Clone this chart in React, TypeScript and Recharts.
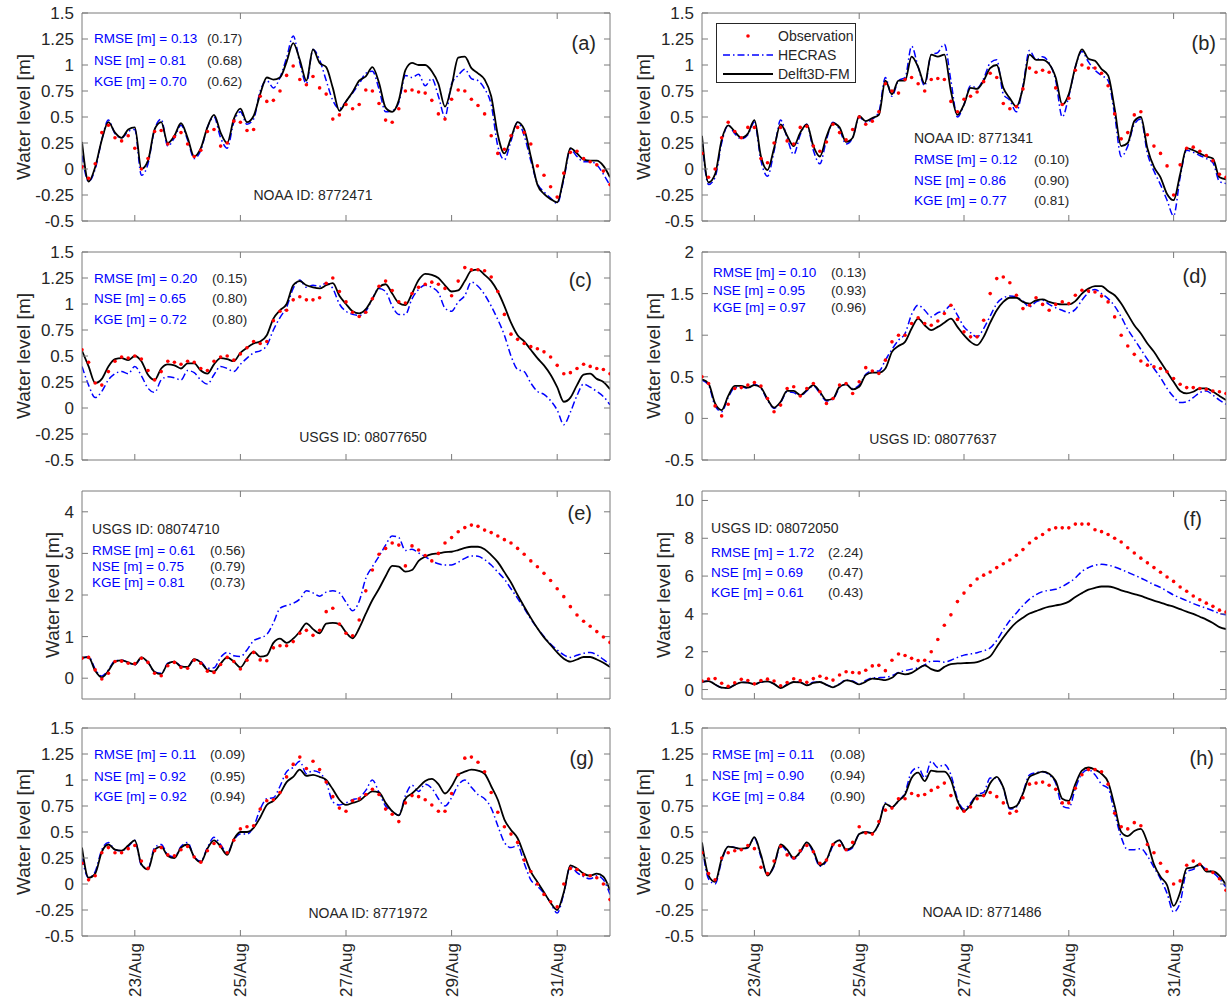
import React from "react";
import { ComposedChart, Line, XAxis, YAxis } from "recharts";

const FONT = '"Liberation Sans", Arial, Helvetica, sans-serif';
const AXIS = "#7a7a7a";
const TXT = "#262626";
const BLUE = "#0000ff";
const RED = "#ff0000";
const PLOT_H = 208;
const YW = 90;

// hours since 22/Aug 00:00, one reading every 3 h
const HOURS = Array.from({ length: 81 }, (_, i) => i * 3);
const DATE_TICKS = [24, 72, 120, 168, 216];
const DATE_LABELS = ["23/Aug", "25/Aug", "27/Aug", "29/Aug", "31/Aug"];

const TICKS_Q = [-0.5, -0.25, 0, 0.25, 0.5, 0.75, 1, 1.25, 1.5];
const TICKS_D = [-0.5, 0, 0.5, 1, 1.5, 2];
const TICKS_E = [0, 1, 2, 3, 4];
const TICKS_F = [0, 2, 4, 6, 8, 10];

const STAT_NAMES = ["RMSE [m]", "NSE [m]", "KGE [m]"];

// (a) NOAA 8772471
const aObs = [
  0.02, -0.09, 0.05, 0.35, 0.42, 0.3, 0.27, 0.32,
  0.2, 0.0, 0.1, 0.36, 0.37, 0.24, 0.31, 0.35,
  0.24, 0.12, 0.18, 0.36, 0.38, 0.22, 0.25, 0.46,
  0.45, 0.37, 0.38, 0.7, 0.65, 0.66, 0.75, 0.9,
  0.99, 0.86, 0.81, 0.89, 0.78, 0.72, 0.48, 0.52,
  0.62, 0.58, 0.62, 0.76, 0.75, 0.63, 0.47, 0.45,
  0.58, 0.75, 0.76, 0.74, 0.73, 0.66, 0.53, 0.48,
  0.67, 0.76, 0.75, 0.67, 0.61, 0.53, 0.32, 0.15,
  0.19, 0.32, 0.4, 0.35, 0.24, 0.03, -0.06, -0.17,
  -0.27, -0.04, 0.16, 0.17, 0.1, 0.07, 0.04, -0.02,
  -0.15,
];
const aHec = [
  0.13, -0.12, 0.0, 0.28, 0.47, 0.34, 0.3, 0.36,
  0.38, -0.06, 0.05, 0.38, 0.48, 0.22, 0.3, 0.42,
  0.28, 0.1, 0.18, 0.4, 0.5, 0.3, 0.2, 0.45,
  0.55, 0.43, 0.48, 0.75, 0.85, 0.78, 0.88, 1.07,
  1.28, 1.02, 0.82, 1.15, 1.05, 0.85, 0.66, 0.58,
  0.65, 0.73, 0.82, 0.92, 0.94, 0.77, 0.55, 0.56,
  0.64, 0.9, 0.88, 0.91, 0.8, 0.87, 0.7, 0.5,
  0.82, 0.9, 0.96, 0.87, 0.85, 0.77, 0.62, 0.22,
  0.09, 0.27, 0.45, 0.32, 0.08, -0.14, -0.22, -0.28,
  -0.33, -0.1, 0.19, 0.12, 0.07, 0.07, 0.04, -0.05,
  -0.16,
];
const aDel = [
  0.26, -0.12, 0.02, 0.28, 0.45, 0.35, 0.3, 0.38,
  0.4, 0.0, 0.08, 0.38, 0.45, 0.25, 0.32, 0.44,
  0.3, 0.12, 0.2, 0.4, 0.52, 0.35, 0.25, 0.48,
  0.58, 0.45, 0.51, 0.72, 0.88, 0.86, 0.88, 1.03,
  1.21, 1.05, 0.85, 1.15, 1.02, 0.98, 0.78, 0.56,
  0.65, 0.74, 0.85, 0.89, 0.98, 0.83, 0.59, 0.55,
  0.66, 0.95, 1.02, 1.0, 1.0, 0.94, 0.82, 0.6,
  0.8, 1.07, 1.08, 0.97, 0.92, 0.86, 0.7, 0.33,
  0.15, 0.3, 0.45, 0.38, 0.12, -0.15, -0.24, -0.29,
  -0.32, -0.08, 0.2, 0.15, 0.09, 0.08, 0.08, 0.03,
  -0.08,
];

// (b) NOAA 8771341
const bObs = [
  0.15, -0.08, 0.0, 0.3, 0.45, 0.36, 0.3, 0.4,
  0.4, 0.1, 0.06, 0.25, 0.4, 0.27, 0.24, 0.4,
  0.41, 0.22, 0.17, 0.26, 0.43, 0.35, 0.28, 0.38,
  0.5, 0.43, 0.46, 0.55, 0.82, 0.75, 0.73, 0.86,
  0.88, 0.82, 0.75, 0.86, 0.87, 0.86, 0.65, 0.55,
  0.67, 0.7, 0.74, 0.84, 0.92, 0.88, 0.63, 0.58,
  0.6, 0.77, 0.97, 0.93, 0.95, 0.93, 0.78, 0.62,
  0.68, 0.95, 1.0, 0.97, 0.97, 0.92, 0.8, 0.53,
  0.29, 0.35, 0.52, 0.55, 0.33, 0.22, 0.15, 0.03,
  -0.25, 0.04, 0.2, 0.21, 0.17, 0.13, 0.08, -0.05,
  -0.08,
];
const bHec = [
  0.28, -0.15, -0.08, 0.25, 0.42, 0.34, 0.29, 0.33,
  0.45, 0.08, -0.07, 0.17, 0.47, 0.3, 0.14, 0.33,
  0.43, 0.18, 0.05, 0.28, 0.45, 0.38, 0.24, 0.3,
  0.5, 0.45, 0.48, 0.55, 0.88, 0.7, 0.85, 0.88,
  1.18, 0.98, 0.8, 1.1, 1.12, 1.2, 0.85, 0.5,
  0.62, 0.8, 0.78, 0.87, 1.02, 1.05, 0.72, 0.66,
  0.55, 0.8, 1.14, 1.05, 1.08, 1.02, 0.85, 0.5,
  0.7, 0.98, 1.13, 1.03, 0.95, 0.9, 0.85, 0.52,
  0.12, 0.22, 0.43, 0.48, 0.15, -0.02, -0.15, -0.3,
  -0.45, -0.08, 0.18, 0.16, 0.13, 0.1, 0.06, -0.12,
  -0.14,
];
const bDel = [
  0.32, -0.13, -0.05, 0.28, 0.42, 0.36, 0.3, 0.34,
  0.47, 0.12, -0.01, 0.2, 0.43, 0.32, 0.22, 0.35,
  0.43, 0.22, 0.12, 0.31, 0.44, 0.4, 0.26, 0.3,
  0.51, 0.46, 0.49, 0.52, 0.85, 0.72, 0.85, 0.85,
  1.08, 0.98, 0.82, 1.1, 1.08, 1.1, 0.75, 0.52,
  0.62, 0.78, 0.77, 0.85, 0.97, 1.0, 0.78, 0.68,
  0.6, 0.78, 1.1, 1.05, 1.05, 1.01, 0.88, 0.62,
  0.72, 0.98, 1.15, 1.06, 1.04, 0.96, 0.9, 0.58,
  0.22, 0.25, 0.46, 0.5, 0.2, 0.02, -0.08, -0.24,
  -0.3, -0.05, 0.2, 0.18, 0.15, 0.12, 0.1, -0.08,
  -0.1,
];

// (c) USGS 08077650
const cObs = [
  0.56, 0.44, 0.24, 0.22, 0.35, 0.45, 0.49, 0.48,
  0.5, 0.47, 0.36, 0.27, 0.35, 0.45, 0.44, 0.42,
  0.45, 0.44, 0.38, 0.36, 0.45, 0.49, 0.5, 0.46,
  0.52, 0.58, 0.64, 0.62, 0.64, 0.84, 0.93, 0.94,
  1.04, 1.07, 1.04, 1.04, 1.06, 1.2, 1.25, 1.12,
  1.02, 0.92, 0.88, 0.92, 1.05, 1.17, 1.22, 1.13,
  1.02, 1.01, 1.1, 1.16, 1.19, 1.21, 1.19, 1.15,
  1.08, 1.22, 1.35, 1.33, 1.33, 1.32, 1.26, 1.12,
  0.9, 0.71, 0.66, 0.62, 0.59, 0.57, 0.54, 0.49,
  0.41, 0.33, 0.34, 0.38, 0.42, 0.4, 0.38, 0.37,
  0.33,
];
const cHec = [
  0.4, 0.22, 0.1, 0.16, 0.27, 0.33, 0.35, 0.33,
  0.4, 0.31, 0.19, 0.15, 0.27, 0.3, 0.29, 0.27,
  0.36, 0.34, 0.27, 0.23, 0.32, 0.4, 0.38, 0.35,
  0.42, 0.48, 0.53, 0.55, 0.6, 0.75, 0.87, 0.97,
  1.15, 1.23, 1.16, 1.18, 1.17, 1.2, 1.15, 1.0,
  0.93, 0.9, 0.89, 0.93, 1.05, 1.15, 1.12, 0.98,
  0.9, 0.9, 1.05, 1.14, 1.18, 1.16, 1.11, 0.96,
  0.93, 1.02, 1.08, 1.21, 1.17, 1.09, 0.98, 0.85,
  0.7, 0.5, 0.37, 0.35, 0.24, 0.16, 0.13, 0.07,
  -0.02, -0.16, -0.04, 0.12, 0.23, 0.2, 0.16, 0.11,
  0.03,
];
const cDel = [
  0.55, 0.4, 0.24, 0.28, 0.4, 0.47, 0.48, 0.46,
  0.5, 0.45, 0.32, 0.27, 0.38, 0.42, 0.41, 0.38,
  0.43, 0.43, 0.36, 0.33, 0.42, 0.48, 0.47, 0.45,
  0.53, 0.58, 0.62, 0.64, 0.7, 0.86, 0.94, 1.0,
  1.18, 1.22, 1.18, 1.16, 1.15, 1.18, 1.2, 1.08,
  1.0, 0.93, 0.91, 0.95, 1.05, 1.16, 1.19, 1.1,
  1.01, 0.99, 1.1, 1.23, 1.29, 1.28, 1.25, 1.18,
  1.12, 1.13, 1.22, 1.32, 1.33, 1.28, 1.22, 1.12,
  0.98, 0.82, 0.7, 0.64, 0.56, 0.48, 0.41, 0.32,
  0.2, 0.06, 0.1, 0.22, 0.32, 0.33, 0.28, 0.25,
  0.18,
];

// (d) USGS 08077637
const dObs = [
  0.5, 0.42, 0.15, 0.03, 0.17, 0.36, 0.37, 0.4,
  0.43, 0.39, 0.24, 0.08, 0.16, 0.36, 0.38, 0.27,
  0.36, 0.42, 0.32, 0.18, 0.24, 0.4, 0.42, 0.3,
  0.44, 0.61, 0.57, 0.54, 0.7, 0.92, 1.0, 1.0,
  1.14, 1.21, 1.14, 1.12, 1.17, 1.26, 1.36, 1.19,
  1.04, 0.98, 0.98, 1.18, 1.5, 1.68, 1.7, 1.63,
  1.48, 1.32, 1.36, 1.45, 1.37, 1.3, 1.37, 1.4,
  1.38, 1.48, 1.54, 1.53, 1.52, 1.47, 1.4, 1.22,
  1.0, 0.87, 0.77, 0.69, 0.64, 0.62, 0.6, 0.56,
  0.48, 0.41, 0.37, 0.37, 0.36, 0.35, 0.33, 0.32,
  0.3,
];
const dHec = [
  0.46, 0.4, 0.15, 0.08, 0.25, 0.37, 0.38, 0.36,
  0.41, 0.36, 0.22, 0.12, 0.19, 0.32, 0.31, 0.27,
  0.33, 0.39, 0.3, 0.21, 0.23, 0.37, 0.41, 0.36,
  0.4, 0.53, 0.57, 0.57, 0.7, 0.83, 0.94, 1.02,
  1.25, 1.36, 1.3, 1.22, 1.27, 1.29, 1.36, 1.24,
  1.1, 1.03, 0.98, 1.08, 1.23, 1.38, 1.45, 1.47,
  1.46, 1.41, 1.34, 1.4, 1.42, 1.37, 1.33, 1.3,
  1.27, 1.31, 1.42, 1.51, 1.55, 1.5, 1.44, 1.35,
  1.22, 1.07, 0.95, 0.83, 0.71, 0.6, 0.49, 0.36,
  0.26, 0.19, 0.2, 0.25, 0.31, 0.33, 0.28, 0.22,
  0.17,
];
const dDel = [
  0.47, 0.42, 0.18, 0.1, 0.27, 0.39, 0.39, 0.37,
  0.4, 0.37, 0.23, 0.13, 0.2, 0.33, 0.33, 0.28,
  0.34, 0.4, 0.32, 0.22, 0.24, 0.38, 0.41, 0.35,
  0.38, 0.52, 0.55, 0.55, 0.6, 0.8, 0.87, 0.92,
  1.08, 1.2, 1.12, 1.06, 1.1, 1.15, 1.2, 1.1,
  1.0, 0.92, 0.88, 0.98, 1.15, 1.3, 1.4, 1.45,
  1.45, 1.4, 1.38, 1.42, 1.43, 1.4, 1.38, 1.37,
  1.37, 1.41, 1.5, 1.56, 1.59, 1.59, 1.53, 1.48,
  1.38, 1.25, 1.12, 1.02, 0.9, 0.8, 0.68, 0.56,
  0.44, 0.33, 0.3, 0.32, 0.36, 0.36, 0.32, 0.27,
  0.22,
];

// (e) USGS 08074710
const eObs = [
  0.48, 0.5, 0.2, -0.02, 0.12, 0.4, 0.41, 0.36,
  0.35, 0.48, 0.38, 0.12, 0.06, 0.3, 0.38, 0.26,
  0.24, 0.43, 0.36, 0.17, 0.14, 0.33, 0.5, 0.4,
  0.22, 0.43, 0.62, 0.44, 0.42, 0.73, 0.78, 0.78,
  0.88, 1.08, 1.15, 1.03, 1.15, 1.6, 1.68, 1.3,
  1.08, 1.02, 1.4, 2.1, 2.6, 2.98, 3.12, 3.25,
  3.2, 2.7, 3.18, 3.08, 2.95, 2.82, 3.0, 3.25,
  3.38, 3.52, 3.62, 3.68, 3.65, 3.56, 3.5, 3.42,
  3.33, 3.25, 3.12, 2.98, 2.82, 2.68, 2.52, 2.35,
  2.15, 1.96, 1.72, 1.52, 1.37, 1.25, 1.12, 0.99,
  0.86,
];
const eHec = [
  0.47, 0.52, 0.22, 0.05, 0.2, 0.42, 0.43, 0.38,
  0.32, 0.48, 0.38, 0.15, 0.12, 0.36, 0.4, 0.29,
  0.27, 0.45, 0.4, 0.24, 0.25, 0.5, 0.62, 0.54,
  0.52, 0.68, 0.9, 0.97, 1.05, 1.33, 1.68, 1.75,
  1.8, 1.9, 2.1, 2.05, 1.97, 2.07, 2.1, 2.05,
  1.83, 1.62, 1.85, 2.4, 2.68, 2.93, 3.2, 3.42,
  3.38, 3.07, 3.1, 3.01, 2.92, 2.82, 2.75, 2.72,
  2.72, 2.79, 2.88, 2.94, 2.93, 2.85, 2.72, 2.55,
  2.38, 2.15, 1.92, 1.68, 1.42, 1.2, 1.0, 0.82,
  0.68, 0.56, 0.5, 0.55, 0.6, 0.62, 0.56, 0.45,
  0.33,
];
const eDel = [
  0.5, 0.5, 0.18, 0.02, 0.18, 0.4, 0.43, 0.38,
  0.33, 0.5, 0.38, 0.15, 0.1, 0.35, 0.4, 0.28,
  0.27, 0.46, 0.38, 0.2, 0.16, 0.35, 0.5, 0.4,
  0.26, 0.47, 0.64, 0.52, 0.55, 0.85, 0.95, 0.85,
  0.95, 1.12, 1.32, 1.18, 1.08, 1.31, 1.33, 1.3,
  1.1, 0.96, 1.2, 1.55, 1.88, 2.15, 2.45, 2.7,
  2.68, 2.56, 2.6, 2.82, 2.92, 2.98, 3.0, 3.03,
  3.04, 3.08, 3.13, 3.16, 3.16, 3.1, 2.96, 2.79,
  2.55, 2.3, 2.0, 1.72, 1.45, 1.2, 0.98, 0.8,
  0.62, 0.47, 0.4, 0.45, 0.51, 0.51, 0.45, 0.37,
  0.27,
];

// (f) USGS 08072050
const fObs = [
  0.45, 0.56, 0.58, 0.33, 0.17, 0.36, 0.54, 0.48,
  0.3, 0.48, 0.55, 0.45, 0.2, 0.37, 0.57, 0.47,
  0.38, 0.58, 0.7, 0.6, 0.5, 0.77, 0.94, 0.9,
  0.88, 1.02, 1.25, 1.28, 1.0, 1.55, 1.88, 1.8,
  1.65, 1.53, 1.55, 2.0, 2.65, 3.4, 3.95, 4.65,
  5.1, 5.5, 5.85, 6.05, 6.22, 6.45, 6.65, 6.85,
  7.1, 7.4, 7.75, 8.0, 8.2, 8.45, 8.55, 8.55,
  8.55, 8.75, 8.75, 8.75, 8.45, 8.35, 8.2, 8.0,
  7.8, 7.5, 7.22, 6.95, 6.7, 6.45, 6.2, 5.95,
  5.72, 5.42, 5.2, 4.95, 4.75, 4.57, 4.4, 4.2,
  4.1,
];
const fHec = [
  0.4, 0.45, 0.27, 0.1, 0.08, 0.25, 0.38, 0.37,
  0.28, 0.4, 0.43, 0.3, 0.1, 0.27, 0.4, 0.38,
  0.24, 0.38, 0.4, 0.25, 0.14, 0.3, 0.5, 0.45,
  0.3, 0.48, 0.62, 0.63, 0.65, 0.73, 0.9, 1.0,
  1.08, 1.15, 1.3, 1.5, 1.5, 1.45, 1.55, 1.7,
  1.82, 1.88, 1.95, 2.05, 2.2, 2.6, 3.15, 3.65,
  4.05, 4.45, 4.78, 5.02, 5.18, 5.25, 5.3, 5.45,
  5.65, 5.9, 6.25, 6.45, 6.58, 6.62, 6.58, 6.48,
  6.35, 6.2, 6.05, 5.9, 5.72, 5.55, 5.4, 5.2,
  5.0, 4.85, 4.7, 4.55, 4.42, 4.3, 4.17, 4.02,
  3.95,
];
const fDel = [
  0.4, 0.45, 0.27, 0.1, 0.08, 0.25, 0.38, 0.37,
  0.28, 0.4, 0.43, 0.3, 0.08, 0.25, 0.4, 0.38,
  0.22, 0.35, 0.4, 0.25, 0.12, 0.28, 0.48, 0.42,
  0.27, 0.42, 0.58, 0.55, 0.5, 0.62, 0.88, 0.8,
  0.88, 1.1, 1.28, 1.08, 0.98, 1.2, 1.35, 1.38,
  1.4, 1.41, 1.45, 1.58, 1.75, 2.25, 2.75, 3.2,
  3.55, 3.8, 4.02, 4.15, 4.28, 4.38, 4.45, 4.52,
  4.65, 4.9, 5.1, 5.28, 5.38, 5.45, 5.45, 5.38,
  5.25, 5.15, 5.05, 4.95, 4.82, 4.7, 4.6, 4.48,
  4.38, 4.25, 4.12, 4.0, 3.85, 3.7, 3.52, 3.3,
  3.2,
];

// (g) NOAA 8771972
const gObs = [
  0.2, 0.04, 0.08, 0.3, 0.35, 0.3, 0.3, 0.34,
  0.37, 0.22, 0.15, 0.32, 0.35, 0.28, 0.27, 0.33,
  0.36, 0.26, 0.21, 0.32, 0.39, 0.36, 0.3, 0.42,
  0.53, 0.55, 0.56, 0.72, 0.8, 0.81, 0.88, 1.03,
  1.15, 1.22, 1.11, 1.18, 1.1, 0.98, 0.84, 0.73,
  0.7, 0.8, 0.82, 0.86, 0.91, 0.86, 0.72, 0.67,
  0.6, 0.78, 0.85, 0.84, 0.81, 0.76, 0.7, 0.7,
  0.87, 1.05, 1.21, 1.22, 1.17, 1.08, 0.88, 0.69,
  0.55, 0.48, 0.4, 0.23, 0.12, 0.0, -0.1, -0.17,
  -0.22, 0.0, 0.15, 0.14, 0.09, 0.08, 0.06, 0.0,
  -0.15,
];
const gHec = [
  0.25, 0.06, 0.12, 0.33, 0.4, 0.33, 0.32, 0.36,
  0.42, 0.18, 0.15, 0.35, 0.38, 0.28, 0.26, 0.36,
  0.4, 0.26, 0.22, 0.35, 0.45, 0.38, 0.3, 0.42,
  0.48, 0.48, 0.55, 0.72, 0.82, 0.83, 0.94, 1.08,
  1.12, 1.18, 1.06, 1.09, 1.07, 0.98, 0.79, 0.76,
  0.78, 0.81, 0.83, 0.9, 1.0, 0.88, 0.75, 0.7,
  0.66, 0.85, 0.95, 0.89, 0.96, 0.92, 0.82, 0.75,
  0.83, 0.95, 1.0, 0.93, 0.86, 0.82, 0.73, 0.56,
  0.4, 0.35, 0.37, 0.2, 0.04, -0.02, -0.09, -0.18,
  -0.28, -0.09, 0.17, 0.11, 0.07, 0.05, 0.08, 0.04,
  -0.1,
];
const gDel = [
  0.35, 0.06, 0.1, 0.31, 0.38, 0.33, 0.32, 0.37,
  0.42, 0.19, 0.14, 0.33, 0.36, 0.27, 0.25, 0.35,
  0.38, 0.26, 0.21, 0.34, 0.42, 0.36, 0.28, 0.43,
  0.5, 0.5, 0.54, 0.64, 0.76, 0.8, 0.87, 0.98,
  1.03, 1.1, 1.04, 1.05, 1.03, 1.0, 0.91, 0.81,
  0.76, 0.78, 0.8, 0.85, 0.89, 0.88, 0.78, 0.7,
  0.66, 0.82, 0.87, 0.93, 0.99, 1.01, 0.96, 0.87,
  0.94, 1.05, 1.08, 1.1, 1.09, 1.06, 0.94, 0.81,
  0.62, 0.52, 0.44, 0.28, 0.12, 0.02, -0.08, -0.18,
  -0.25, -0.08, 0.18, 0.15, 0.1, 0.08, 0.1, 0.07,
  -0.06,
];

// (h) NOAA 8771486
const hObs = [
  0.3, 0.1, 0.04, 0.25, 0.3, 0.32, 0.33, 0.37,
  0.34, 0.16, 0.1, 0.22, 0.36, 0.28, 0.25, 0.32,
  0.37, 0.31, 0.2, 0.23, 0.38, 0.37, 0.33, 0.4,
  0.55, 0.49, 0.48, 0.6, 0.71, 0.73, 0.82, 0.82,
  0.87, 0.85, 0.86, 0.9, 0.93, 0.97, 0.85, 0.73,
  0.7, 0.74, 0.82, 0.85, 0.88, 0.84, 0.78, 0.68,
  0.7, 0.83, 0.96, 0.97, 0.98, 0.95, 0.91, 0.78,
  0.78, 0.92, 1.05, 1.1, 1.1, 1.08, 0.96, 0.68,
  0.55, 0.53, 0.59, 0.56, 0.38, 0.3, 0.2, 0.12,
  0.0, 0.03, 0.18, 0.22, 0.19, 0.14, 0.11, 0.05,
  -0.06,
];
const hHec = [
  0.38, 0.05, 0.0, 0.22, 0.36, 0.35, 0.33, 0.35,
  0.44, 0.26, 0.09, 0.17, 0.37, 0.31, 0.24, 0.3,
  0.4, 0.3, 0.17, 0.22, 0.37, 0.42, 0.32, 0.35,
  0.48, 0.5, 0.49, 0.58, 0.78, 0.74, 0.8, 0.88,
  1.08, 1.12, 1.02, 1.18, 1.12, 1.15, 1.05, 0.82,
  0.72, 0.78, 0.86, 0.88, 1.02, 1.02, 0.92, 0.72,
  0.74, 0.88, 1.05, 1.07, 1.08, 1.05, 0.97, 0.75,
  0.73, 0.92, 1.06, 1.1, 1.05, 0.96, 0.92, 0.68,
  0.45, 0.33, 0.33, 0.34, 0.27, 0.16, 0.05, -0.09,
  -0.27, -0.18, 0.12, 0.14, 0.18, 0.14, 0.11, 0.05,
  -0.03,
];
const hDel = [
  0.4, 0.08, 0.02, 0.24, 0.36, 0.35, 0.34, 0.35,
  0.45, 0.28, 0.08, 0.18, 0.38, 0.33, 0.25, 0.31,
  0.4, 0.32, 0.18, 0.23, 0.38, 0.42, 0.33, 0.36,
  0.48, 0.5, 0.49, 0.58, 0.77, 0.74, 0.8, 0.86,
  1.02, 1.07, 0.99, 1.09, 1.08, 1.08, 1.0, 0.8,
  0.7, 0.76, 0.85, 0.85, 0.97, 1.03, 0.93, 0.73,
  0.75, 0.87, 1.03, 1.06, 1.08, 1.06, 0.99, 0.82,
  0.8, 0.96, 1.09, 1.12, 1.1, 1.06, 0.98, 0.75,
  0.5, 0.46, 0.51, 0.53, 0.4, 0.19, 0.07, -0.01,
  -0.21, -0.08, 0.15, 0.16, 0.19, 0.12, 0.12, 0.08,
  -0.01,
];

type Pos = { x: number; y: number };
type PanelCfg = {
  id: string;
  left: number;
  top: number;
  width: number;
  domain: [number, number];
  ticks: number[];
  ylabelOff: number;
  obs: number[];
  hec: number[];
  del: number[];
  dates: boolean;
  letterRight: number;
  letterY: number;
  station: string;
  stationPos: Pos;
  stationCentered: boolean;
  stats: string[][];
  statX: number;
  refX: number;
  statY: number[];
  legend?: boolean;
};

const PANELS: PanelCfg[] = [
  {
    id: "a", left: 82, top: 13, width: 528, domain: [-0.5, 1.5], ticks: TICKS_Q, ylabelOff: 59,
    obs: aObs, hec: aHec, del: aDel, dates: false, letterRight: 14, letterY: 30,
    station: "NOAA ID: 8772471", stationPos: { x: 231, y: 182 }, stationCentered: true,
    stats: [["0.13", "0.17"], ["0.81", "0.68"], ["0.70", "0.62"]], statX: 12, refX: 125, statY: [26, 48, 69],
  },
  {
    id: "b", left: 702, top: 13, width: 524, domain: [-0.5, 1.5], ticks: TICKS_Q, ylabelOff: 59,
    obs: bObs, hec: bHec, del: bDel, dates: false, letterRight: 10, letterY: 30,
    station: "NOAA ID: 8771341", stationPos: { x: 212, y: 125 }, stationCentered: false,
    stats: [["0.12", "0.10"], ["0.86", "0.90"], ["0.77", "0.81"]], statX: 212, refX: 332, statY: [147, 168, 188],
    legend: true,
  },
  {
    id: "c", left: 82, top: 252, width: 528, domain: [-0.5, 1.5], ticks: TICKS_Q, ylabelOff: 59,
    obs: cObs, hec: cHec, del: cDel, dates: false, letterRight: 18, letterY: 28,
    station: "USGS ID: 08077650", stationPos: { x: 281, y: 185 }, stationCentered: true,
    stats: [["0.20", "0.15"], ["0.65", "0.80"], ["0.72", "0.80"]], statX: 12, refX: 130, statY: [27, 47, 68],
  },
  {
    id: "d", left: 702, top: 252, width: 524, domain: [-0.5, 2], ticks: TICKS_D, ylabelOff: 49,
    obs: dObs, hec: dHec, del: dDel, dates: false, letterRight: 19, letterY: 24,
    station: "USGS ID: 08077637", stationPos: { x: 231, y: 187 }, stationCentered: true,
    stats: [["0.10", "0.13"], ["0.95", "0.93"], ["0.97", "0.96"]], statX: 11, refX: 129, statY: [21, 39, 56],
  },
  {
    id: "e", left: 82, top: 491, width: 528, domain: [-0.5, 4.5], ticks: TICKS_E, ylabelOff: 30,
    obs: eObs, hec: eHec, del: eDel, dates: false, letterRight: 18, letterY: 22,
    station: "USGS ID: 08074710", stationPos: { x: 10, y: 38 }, stationCentered: false,
    stats: [["0.61", "0.56"], ["0.75", "0.79"], ["0.81", "0.73"]], statX: 10, refX: 128, statY: [60, 76, 92],
  },
  {
    id: "f", left: 702, top: 491, width: 524, domain: [-0.5, 10.5], ticks: TICKS_F, ylabelOff: 39,
    obs: fObs, hec: fHec, del: fDel, dates: false, letterRight: 24, letterY: 28,
    station: "USGS ID: 08072050", stationPos: { x: 9, y: 37 }, stationCentered: false,
    stats: [["1.72", "2.24"], ["0.69", "0.47"], ["0.61", "0.43"]], statX: 9, refX: 126, statY: [62, 82, 102],
  },
  {
    id: "g", left: 82, top: 728, width: 528, domain: [-0.5, 1.5], ticks: TICKS_Q, ylabelOff: 59,
    obs: gObs, hec: gHec, del: gDel, dates: true, letterRight: 16, letterY: 30,
    station: "NOAA ID: 8771972", stationPos: { x: 286, y: 185 }, stationCentered: true,
    stats: [["0.11", "0.09"], ["0.92", "0.95"], ["0.92", "0.94"]], statX: 12, refX: 128, statY: [27, 49, 69],
  },
  {
    id: "h", left: 702, top: 728, width: 524, domain: [-0.5, 1.5], ticks: TICKS_Q, ylabelOff: 59,
    obs: hObs, hec: hHec, del: hDel, dates: true, letterRight: 12, letterY: 30,
    station: "NOAA ID: 8771486", stationPos: { x: 280, y: 184 }, stationCentered: true,
    stats: [["0.11", "0.08"], ["0.90", "0.94"], ["0.84", "0.90"]], statX: 10, refX: 128, statY: [27, 48, 69],
  },
];

const LEGEND_ITEMS = [
  { name: "Observation", kind: "dot", color: RED },
  { name: "HECRAS", kind: "dashdot", color: BLUE },
  { name: "Delft3D-FM", kind: "line", color: "#000000" },
];

const noTick = () => <g />;

function DateTick(props: any) {
  const { x, y, payload } = props;
  const idx = DATE_TICKS.indexOf(payload.value);
  return (
    <text
      x={x}
      y={y}
      transform={`rotate(-90 ${x} ${y})`}
      textAnchor="end"
      dy="0.35em"
      fontSize={17}
      fontFamily={FONT}
      fill={TXT}
    >
      {DATE_LABELS[idx]}
    </text>
  );
}

function LegendBox({ left, top }: { left: number; top: number }) {
  return (
    <div
      style={{
        position: "absolute",
        left,
        top,
        width: 140,
        height: 60,
        border: "1px solid #262626",
        boxSizing: "border-box",
        background: "#fff",
        fontFamily: FONT,
        fontSize: 14,
        color: TXT,
      }}
    >
      {LEGEND_ITEMS.map((it, i) => (
        <div
          key={it.name}
          style={{ position: "absolute", left: 5, top: 3 + i * 19, height: 18, display: "flex", alignItems: "center", whiteSpace: "nowrap" }}
        >
          <svg width={52} height={14}>
            {it.kind === "dot" ? (
              <circle cx={26} cy={7} r={1.8} fill={it.color} />
            ) : (
              <line
                x1={1}
                y1={7}
                x2={51}
                y2={7}
                stroke={it.color}
                strokeWidth={it.kind === "line" ? 1.8 : 1.5}
                strokeDasharray={it.kind === "dashdot" ? "7 3 1.5 3" : undefined}
              />
            )}
          </svg>
          <span style={{ marginLeft: 4 }}>{it.name}</span>
        </div>
      ))}
    </div>
  );
}

function Panel({ p }: { p: PanelCfg }) {
  const rows = HOURS.map((h, i) => ({ h, obs: p.obs[i], hec: p.hec[i], del: p.del[i] }));
  const mt = 10;
  const mr = 10;
  const xh = p.dates ? 72 : 1;
  const mb = p.dates ? 0 : 10;
  const W = YW + p.width + 1 + mr;
  const H = mt + 1 + PLOT_H + xh + mb;
  const tickStyle = { fill: TXT, fontSize: 17, fontFamily: FONT };
  const textBase: React.CSSProperties = {
    position: "absolute",
    whiteSpace: "nowrap",
    lineHeight: 1,
    fontFamily: FONT,
  };

  return (
    <>
      <div style={{ position: "absolute", left: p.left - YW, top: p.top - mt - 1 }}>
        <ComposedChart width={W} height={H} data={rows} margin={{ top: mt, right: mr, bottom: mb, left: 0 }}>
          <XAxis
            dataKey="h"
            type="number"
            domain={[0, 240]}
            ticks={DATE_TICKS}
            interval={0}
            height={xh}
            tickSize={-6}
            tickMargin={13}
            stroke={AXIS}
            tick={p.dates ? <DateTick /> : noTick}
            allowDataOverflow
          />
          <XAxis
            xAxisId="top"
            orientation="top"
            type="number"
            domain={[0, 240]}
            ticks={DATE_TICKS}
            interval={0}
            height={1}
            tickSize={-6}
            stroke={AXIS}
            tick={noTick}
            allowDataOverflow
          />
          <YAxis
            type="number"
            domain={p.domain}
            ticks={p.ticks}
            interval={0}
            width={YW}
            tickSize={-6}
            tickMargin={14}
            stroke={AXIS}
            tick={tickStyle}
            allowDataOverflow
          />
          <YAxis
            yAxisId="right"
            orientation="right"
            type="number"
            domain={p.domain}
            ticks={p.ticks}
            interval={0}
            width={1}
            tickSize={-6}
            stroke={AXIS}
            tick={noTick}
            allowDataOverflow
          />
          <Line
            dataKey="obs"
            stroke="none"
            dot={{ r: 1.8, fill: RED, stroke: "none", strokeWidth: 0 }}
            activeDot={false}
            isAnimationActive={false}
          />
          <Line
            type="monotone"
            dataKey="hec"
            stroke={BLUE}
            strokeWidth={1.5}
            strokeDasharray="7 3 1.5 3"
            dot={false}
            activeDot={false}
            isAnimationActive={false}
          />
          <Line
            type="monotone"
            dataKey="del"
            stroke="#000000"
            strokeWidth={1.8}
            dot={false}
            activeDot={false}
            isAnimationActive={false}
          />
        </ComposedChart>
      </div>

      <div
        style={{
          ...textBase,
          left: p.left - p.ylabelOff,
          top: p.top + PLOT_H / 2,
          transform: "translate(-50%, -50%) rotate(-90deg)",
          fontSize: 19,
          color: TXT,
        }}
      >
        Water level [m]
      </div>

      <div style={{ position: "absolute", left: p.left, top: p.top, width: p.width, height: PLOT_H, pointerEvents: "none" }}>
        <div style={{ ...textBase, right: p.letterRight, top: p.letterY, transform: "translateY(-50%)", fontSize: 20, color: TXT }}>
          ({p.id})
        </div>
        <div
          style={{
            ...textBase,
            left: p.stationPos.x,
            top: p.stationPos.y,
            transform: p.stationCentered ? "translate(-50%, -50%)" : "translateY(-50%)",
            fontSize: 14,
            color: TXT,
          }}
        >
          {p.station}
        </div>
        {p.stats.map((s, i) => (
          <React.Fragment key={STAT_NAMES[i]}>
            <div style={{ ...textBase, left: p.statX, top: p.statY[i], transform: "translateY(-50%)", fontSize: 13.5, color: BLUE }}>
              {STAT_NAMES[i]} = {s[0]}
            </div>
            <div style={{ ...textBase, left: p.refX, top: p.statY[i], transform: "translateY(-50%)", fontSize: 13.5, color: TXT }}>
              ({s[1]})
            </div>
          </React.Fragment>
        ))}
      </div>
      {p.legend ? <LegendBox left={p.left + 14} top={p.top + 10} /> : null}
    </>
  );
}

export default function App() {
  return (
    <div style={{ position: "absolute", left: 0, top: 0, width: 1229, height: 1002, background: "#fff", overflow: "hidden" }}>
      {PANELS.map((p) => (
        <Panel key={p.id} p={p} />
      ))}
    </div>
  );
}
